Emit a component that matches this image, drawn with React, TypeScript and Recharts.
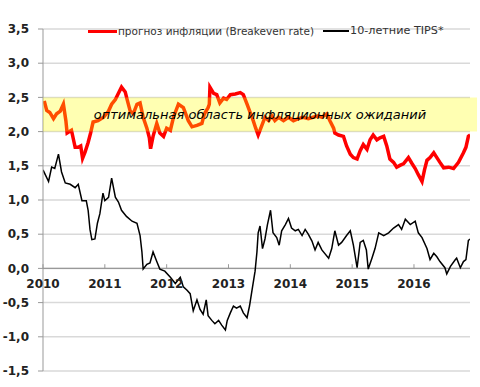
import React from 'react';
import {
  LineChart, Line, XAxis, YAxis, CartesianGrid, ReferenceArea, ReferenceLine, Legend,
} from 'recharts';

// Breakeven inflation rate (red)
const breakevenT = [
  2010.02, 2010.06, 2010.11, 2010.17, 2010.22, 2010.28, 2010.33, 2010.37, 2010.39, 2010.46,
  2010.52, 2010.57, 2010.61, 2010.64, 2010.68, 2010.73, 2010.77, 2010.81, 2010.89, 2010.98,
  2011.06, 2011.11, 2011.17, 2011.22, 2011.27, 2011.33, 2011.36, 2011.41, 2011.46, 2011.52,
  2011.57, 2011.62, 2011.68, 2011.72, 2011.74, 2011.78, 2011.84, 2011.89, 2011.95, 2012.0,
  2012.06, 2012.11, 2012.19, 2012.27, 2012.35, 2012.41, 2012.49, 2012.57, 2012.61, 2012.67,
  2012.69, 2012.7, 2012.76, 2012.81, 2012.86, 2012.92, 2012.97, 2013.03, 2013.11, 2013.19,
  2013.24, 2013.3, 2013.35, 2013.4, 2013.44, 2013.48, 2013.54, 2013.59, 2013.65, 2013.7,
  2013.75, 2013.81, 2013.89, 2013.97, 2014.05, 2014.13, 2014.21, 2014.29, 2014.37, 2014.45,
  2014.51, 2014.59, 2014.64, 2014.7, 2014.72, 2014.78, 2014.86, 2014.91, 2014.97, 2015.02,
  2015.08, 2015.13, 2015.18, 2015.24, 2015.29, 2015.34, 2015.4, 2015.45, 2015.51, 2015.56,
  2015.61, 2015.67, 2015.72, 2015.78, 2015.83, 2015.91, 2015.97, 2016.02, 2016.07, 2016.13,
  2016.17, 2016.21, 2016.26, 2016.32, 2016.37, 2016.42, 2016.48, 2016.56, 2016.64, 2016.72,
  2016.8, 2016.84, 2016.88, 2016.91,
];
const breakevenV = [
  2.45, 2.31, 2.28, 2.19, 2.26, 2.3, 2.4, 2.16, 1.98, 2.02,
  1.77, 1.77, 1.79, 1.61, 1.7, 1.84, 1.98, 2.14, 2.16, 2.21,
  2.3, 2.4, 2.47, 2.56, 2.65, 2.58, 2.47, 2.3, 2.26, 2.4,
  2.42, 2.21, 2.05, 1.91, 1.75, 1.93, 2.12, 1.98, 1.93, 2.05,
  2.02, 2.21, 2.4, 2.35, 2.16, 2.07, 2.09, 2.12, 2.26, 2.35,
  2.4, 2.65, 2.56, 2.54, 2.42, 2.49, 2.47, 2.54, 2.55, 2.57,
  2.54, 2.4, 2.28, 2.16, 2.05, 1.95, 2.09, 2.21, 2.16, 2.23,
  2.16, 2.21, 2.16, 2.21, 2.16, 2.19, 2.21, 2.19, 2.21, 2.23,
  2.21, 2.26, 2.16, 2.05, 1.98, 1.95, 1.93, 1.79, 1.67, 1.62,
  1.6, 1.72, 1.81, 1.74, 1.88, 1.95, 1.88, 1.91, 1.93, 1.79,
  1.6, 1.55, 1.48, 1.51, 1.53, 1.62, 1.53, 1.46, 1.37, 1.27,
  1.44, 1.58, 1.62, 1.69, 1.62, 1.55, 1.47, 1.48, 1.46, 1.55,
  1.69, 1.77, 1.93, 1.95,
];

// 10-year TIPS yield (black)
const tipsT = [
  2010.0, 2010.09, 2010.14, 2010.19, 2010.25, 2010.3, 2010.36, 2010.44, 2010.52, 2010.57,
  2010.63, 2010.7, 2010.73, 2010.76, 2010.79, 2010.84, 2010.88, 2010.92, 2010.97, 2011.0,
  2011.06, 2011.11, 2011.17, 2011.22, 2011.27, 2011.35, 2011.44, 2011.52, 2011.57, 2011.6,
  2011.62, 2011.68, 2011.73, 2011.78, 2011.84, 2011.89, 2011.97, 2012.06, 2012.14, 2012.22,
  2012.27, 2012.33, 2012.38, 2012.43, 2012.49, 2012.54, 2012.59, 2012.64, 2012.67, 2012.73,
  2012.78, 2012.84, 2012.89, 2012.95, 2012.98, 2013.03, 2013.08, 2013.13, 2013.19, 2013.24,
  2013.3, 2013.34, 2013.38, 2013.43, 2013.46, 2013.48, 2013.51, 2013.55, 2013.59, 2013.63,
  2013.68, 2013.72, 2013.78, 2013.82, 2013.86, 2013.92, 2013.97, 2014.02, 2014.08, 2014.13,
  2014.19, 2014.24, 2014.29, 2014.35, 2014.4, 2014.45, 2014.51, 2014.62, 2014.67, 2014.72,
  2014.78, 2014.83, 2014.91, 2014.97, 2015.02, 2015.08, 2015.13, 2015.18, 2015.23, 2015.26,
  2015.32, 2015.37, 2015.43, 2015.51, 2015.59, 2015.67, 2015.75, 2015.8, 2015.86, 2015.94,
  2016.02, 2016.07, 2016.13, 2016.21, 2016.26, 2016.32, 2016.37, 2016.42, 2016.5, 2016.53,
  2016.59, 2016.67, 2016.69, 2016.75, 2016.8, 2016.84, 2016.88, 2016.91,
];
const tipsV = [
  1.44, 1.27, 1.48, 1.46, 1.67, 1.41, 1.25, 1.23, 1.18, 1.23,
  0.99, 0.99, 0.85, 0.57, 0.42, 0.43, 0.66, 0.8, 1.1, 0.99,
  1.04, 1.32, 1.04, 0.97, 0.85, 0.76, 0.69, 0.66, 0.48, 0.24,
  -0.01, 0.06, 0.08, 0.24, 0.1, -0.01, -0.04, -0.13, -0.22, -0.13,
  -0.27, -0.32, -0.37, -0.62, -0.46, -0.6, -0.67, -0.46, -0.69, -0.76,
  -0.81, -0.76, -0.83, -0.9, -0.76, -0.65, -0.55, -0.58, -0.55, -0.65,
  -0.72, -0.55, -0.32, -0.04, 0.24, 0.52, 0.62, 0.29, 0.43, 0.64,
  0.85, 0.52, 0.45, 0.34, 0.55, 0.64, 0.73, 0.59, 0.55, 0.57,
  0.48, 0.57, 0.5, 0.4, 0.27, 0.38, 0.27, 0.15, 0.29, 0.55,
  0.34, 0.38, 0.48, 0.55, 0.34, 0.01, 0.38, 0.41, 0.27, -0.01,
  0.15, 0.29, 0.52, 0.48, 0.52, 0.59, 0.64, 0.57, 0.72, 0.64,
  0.69, 0.52, 0.45, 0.29, 0.13, 0.22, 0.17, 0.1, 0.01, -0.08,
  0.03, 0.13, 0.15, 0.01, 0.1, 0.13, 0.41, 0.43,
];

const yearTicks = [2010, 2011, 2012, 2013, 2014, 2015, 2016];
const yTicks = [-1.5, -1, -0.5, 0, 0.5, 1, 1.5, 2, 2.5, 3, 3.5];
const bandLow = 2.0;
const bandHigh = 2.5;
const bandLabel = 'оптимальная область инфляционных ожиданий';
const seriesNames = ['прогноз инфляции (Breakeven rate)', '10-летние TIPS*'];

const breakevenData = breakevenT.map((t, i) => ({ t, v: breakevenV[i] }));
const tipsData = tipsT.map((t, i) => ({ t, v: tipsV[i] }));

const W = 480;
const H = 387;
const X_AXIS_H = 16;
const MARGIN = { top: 15, right: 10, bottom: 0, left: 8 };
const Y_MIN = -1.5;
const Y_MAX = 3.5;
const X_MIN = 2010;
const X_MAX = 2016.906;
const PLOT_H = H - MARGIN.top - MARGIN.bottom - X_AXIS_H;
const ZERO_Y = MARGIN.top + (PLOT_H * (Y_MAX - 0)) / (Y_MAX - Y_MIN);

const FONT = '"DejaVu Sans", Verdana, sans-serif';

const YearTick = (props: any) => {
  const { x, payload } = props;
  return (
    <g>
      <line x1={x} x2={x} y1={ZERO_Y} y2={ZERO_Y + 4} stroke="#999" strokeWidth={1} />
      <text x={x} y={ZERO_Y + 24} textAnchor="middle" fontFamily={FONT} fontWeight="bold" fontSize={12} fill="#222">
        {payload.value}
      </text>
    </g>
  );
};

const LegendContent = () => (
  <div style={{ display: 'flex', alignItems: 'center', fontFamily: FONT, color: '#333', whiteSpace: 'nowrap', lineHeight: '14px' }}>
    <span style={{ display: 'inline-block', width: 29, height: 3, background: '#ff0000', marginRight: 1 }} />
    <span style={{ fontSize: 10.5 }}>{seriesNames[0]}</span>
    <span style={{ display: 'inline-block', width: 26, height: 1.5, background: '#000', marginLeft: 9, marginRight: 1 }} />
    <span style={{ fontSize: 11.2 }}>{seriesNames[1]}</span>
  </div>
);

export default function App() {
  return (
    <div style={{ position: 'absolute', left: 0, top: 0 }}>
      <LineChart width={W} height={H} margin={MARGIN}>
        <CartesianGrid vertical={false} stroke="#d9d9d9" strokeWidth={1.5} />
        <XAxis
          type="number"
          dataKey="t"
          domain={[X_MIN, X_MAX]}
          ticks={yearTicks}
          allowDataOverflow
          height={X_AXIS_H}
          axisLine={false}
          tickLine={false}
          tick={<YearTick />}
          interval={0}
        />
        <YAxis
          type="number"
          domain={[Y_MIN, Y_MAX]}
          ticks={yTicks}
          width={35}
          interval={0}
          axisLine={{ stroke: '#999' }}
          tickLine={{ stroke: '#999' }}
          tickSize={5}
          tickMargin={9}
          tickFormatter={(v: number) => v.toFixed(1).replace('.', ',')}
          tick={{ fontFamily: FONT, fontWeight: 'bold', fontSize: 12, fill: '#222' }}
        />
        <ReferenceLine y={0} stroke="#999" strokeWidth={1.2} />
        <Legend
          verticalAlign="top"
          content={<LegendContent />}
          wrapperStyle={{ position: 'absolute', top: 24, left: 88, width: 'auto' }}
        />
        <Line data={breakevenData} dataKey="v" type="linear" stroke="#ff0000" strokeWidth={3.5} dot={false} isAnimationActive={false} name={seriesNames[0]} />
        <Line data={tipsData} dataKey="v" type="linear" stroke="#000000" strokeWidth={1.5} dot={false} isAnimationActive={false} name={seriesNames[1]} />
        <ReferenceArea
          x1={X_MIN}
          x2={2017.02}
          y1={bandLow}
          y2={bandHigh}
          ifOverflow="visible"
          fill="#ffff00"
          fillOpacity={0.3}
          stroke="none"
          zIndex={600}
          label={{ value: bandLabel, position: 'center', fontFamily: FONT, fontStyle: 'italic', fontSize: 13, fill: '#000' }}
        />
      </LineChart>
    </div>
  );
}
